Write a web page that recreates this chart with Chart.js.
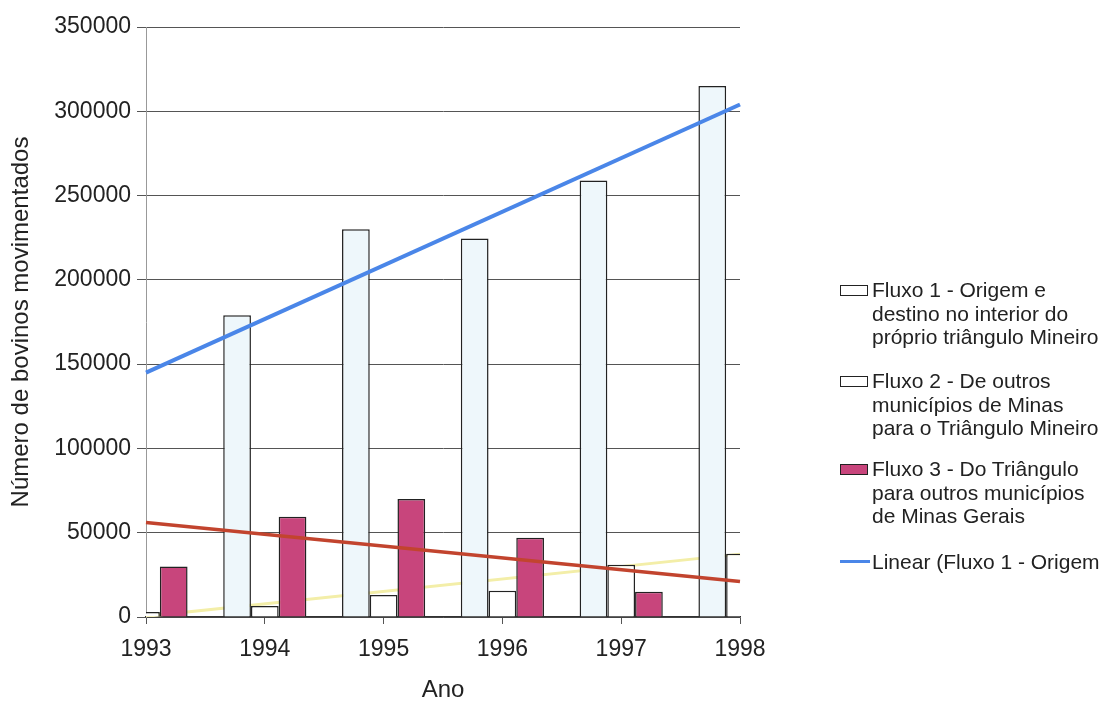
<!DOCTYPE html>
<html>
<head>
<meta charset="utf-8">
<script src="https://cdn.jsdelivr.net/npm/chart.js@4/dist/chart.umd.min.js"></script>
<style>
  html, body { margin: 0; padding: 0; background: #fff; }
  #wrap { position: relative; width: 1104px; height: 702px; }
  #chart { position: absolute; left: 0; top: 0; }
  .legend { position: absolute; left: 840px; font-family: "Liberation Sans", Arial, sans-serif; font-size: 21px; color: #222; line-height: 23.5px; }
  .legend .item { position: absolute; left: 0; white-space: nowrap; }
  .legend .sw { position: absolute; left: 0; top: 7px; width: 26px; height: 9px; border: 1.5px solid #222; }
  .legend .ln { position: absolute; left: 0; top: 10px; width: 30px; height: 3px; background: #4a86e8; }
  .legend .tx { margin-left: 32px; }
</style>
</head>
<body>
<div id="wrap">
  <canvas id="chart" width="1104" height="702"></canvas>
  <div class="legend" id="legend"></div>
</div>
<script>
// Years on the category axis
const years = ['1993', '1994', '1995', '1996', '1997', '1998'];

// Cattle moved per year, by flow
const fluxo1 = [142000, 179000, 230000, 224500, 259000, 315000];
const fluxo2 = [3000, 6500, 13000, 15500, 31000, 37500];
const fluxo3 = [30000, 59500, 70000, 47000, 15000, 8000];

// Linear trend endpoints (1993, 1998)
const trendYears = ['1993', '1998'];
const trend1 = [145000, 304000];
const trend2 = [400, 37300];
const trend3 = [56000, 21000];

// Legend texts
const legendItems = [
  { kind: 'box', fill: '#ffffff', lines: ['Fluxo 1 - Origem e', 'destino no interior do', 'próprio triângulo Mineiro'], top: 278 },
  { kind: 'box', fill: '#ffffff', lines: ['Fluxo 2 - De outros', 'municípios de Minas', 'para o Triângulo Mineiro'], top: 369 },
  { kind: 'box', fill: '#c8457c', lines: ['Fluxo 3 - Do Triângulo', 'para outros municípios', 'de Minas Gerais'], top: 457 },
  { kind: 'line', lines: ['Linear (Fluxo 1 - Origem'], top: 550 }
];

const toPoints = (xs, ys) => xs.map((x, i) => ({ x: x, y: ys[i] }));

const FONT = '"Liberation Sans", Arial, sans-serif';

new Chart(document.getElementById('chart'), {
  type: 'bar',
  data: {
    labels: years,
    datasets: [
      {
        label: 'Fluxo 1 - Origem e destino no interior do próprio triângulo Mineiro',
        data: fluxo1,
        backgroundColor: '#eef7fb',
        borderColor: '#222',
        borderWidth: 1.5,
        order: 5
      },
      {
        label: 'Fluxo 2 - De outros municípios de Minas para o Triângulo Mineiro',
        data: fluxo2,
        backgroundColor: '#ffffff',
        borderColor: '#222',
        borderWidth: 1.5,
        order: 5
      },
      {
        label: 'Fluxo 3 - Do Triângulo para outros municípios de Minas Gerais',
        data: fluxo3,
        backgroundColor: '#c8457c',
        borderColor: '#222',
        borderWidth: 1.5,
        order: 5
      },
      {
        type: 'line',
        label: 'Linear (Fluxo 2)',
        data: toPoints(trendYears, trend2),
        borderColor: '#f3eea8',
        borderWidth: 3,
        pointRadius: 0,
        order: 10
      },
      {
        type: 'line',
        label: 'Linear (Fluxo 3)',
        data: toPoints(trendYears, trend3),
        borderColor: '#c2442e',
        borderWidth: 3.5,
        pointRadius: 0,
        order: 1
      },
      {
        type: 'line',
        label: 'Linear (Fluxo 1 - Origem',
        data: toPoints(trendYears, trend1),
        borderColor: '#4a86e8',
        borderWidth: 4,
        pointRadius: 0,
        order: 1
      }
    ]
  },
  options: {
    responsive: false,
    animation: false,
    layout: { padding: { top: 27, right: 364, left: 0, bottom: 0 } },
    datasets: {
      bar: { categoryPercentage: 0.7, barPercentage: 1.0 }
    },
    plugins: {
      legend: { display: false },
      tooltip: { enabled: false }
    },
    scales: {
      x: {
        type: 'category',
        offset: false,
        grid: { offset: false, drawOnChartArea: false, drawTicks: true, tickLength: 7, color: '#555' },
        border: { color: '#333', width: 1.5 },
        ticks: { color: '#222', font: { family: FONT, size: 23 }, padding: 12, maxRotation: 0 },
        title: { display: true, text: 'Ano', color: '#222', font: { family: FONT, size: 24, lineHeight: 1 }, padding: { top: 0, bottom: 0 } },
        afterFit: s => { s.height = 85; }
      },
      y: {
        min: 0,
        max: 350000,
        grid: { color: '#555', lineWidth: 1, tickLength: 9 },
        border: { color: '#999', width: 1 },
        ticks: { stepSize: 50000, color: '#222', font: { family: FONT, size: 23 }, padding: 6, callback: v => String(v) },
        title: { display: true, text: 'Número de bovinos movimentados', color: '#222', font: { family: FONT, size: 24 }, padding: { top: 7, bottom: 0 } },
        afterFit: s => { s.width = 146; }
      }
    }
  }
});

// Legend drawn as positioned text beside the chart
const legendEl = document.getElementById('legend');
legendItems.forEach(it => {
  const d = document.createElement('div');
  d.className = 'item';
  d.style.top = it.top + 'px';
  const mark = document.createElement('div');
  mark.className = it.kind === 'box' ? 'sw' : 'ln';
  if (it.kind === 'box') mark.style.background = it.fill;
  d.appendChild(mark);
  const t = document.createElement('div');
  t.className = 'tx';
  t.textContent = '';
  it.lines.forEach((l, i) => {
    if (i > 0) t.appendChild(document.createElement('br'));
    t.appendChild(document.createTextNode(l));
  });
  d.appendChild(t);
  legendEl.appendChild(d);
});
</script>
</body>
</html>
